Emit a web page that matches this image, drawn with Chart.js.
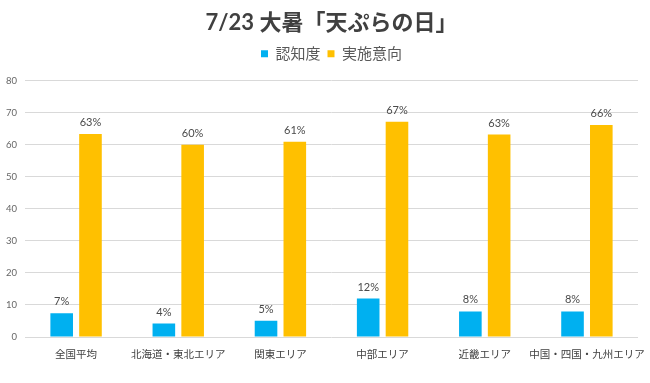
<!DOCTYPE html>
<html>
<head>
<meta charset="utf-8">
<script src="https://cdn.jsdelivr.net/npm/chart.js@4/dist/chart.umd.min.js"></script>
<style>
  html, body { margin: 0; padding: 0; background: #ffffff; }
  #wrap { width: 650px; height: 383px; }
</style>
</head>
<body>
<div id="wrap"><canvas id="c" width="650" height="383"></canvas></div>
<script>
const titleText = '7/23 大暑「天ぷらの日」';
const categories = ['全国平均', '北海道・東北エリア', '関東エリア', '中部エリア', '近畿エリア', '中国・四国・九州エリア'];
const seriesNames = ['認知度', '実施意向'];
const awareness = [7.4, 4.2, 5.1, 12, 8, 8];
const intention = [63.4, 60, 61, 67.2, 63.2, 66.2];
const yTicks = [0, 10, 20, 30, 40, 50, 60, 70, 80];

const FONT = "Lato, 'Noto Sans CJK JP', sans-serif";

const valueLabels = {
  id: 'valueLabels',
  afterDatasetsDraw(chart) {
    const ctx = chart.ctx;
    ctx.save();
    ctx.font = "11px " + FONT;
    ctx.fillStyle = '#4a4a4a';
    ctx.textAlign = 'center';
    ctx.textBaseline = 'bottom';
    chart.data.datasets.forEach((ds, di) => {
      const meta = chart.getDatasetMeta(di);
      meta.data.forEach((bar, i) => {
        ctx.fillText(Math.round(ds.data[i]) + '%', bar.x, bar.y - 6);
      });
    });
    ctx.restore();
  }
};

new Chart(document.getElementById('c'), {
  type: 'bar',
  data: {
    labels: categories,
    datasets: [
      { label: seriesNames[0], data: awareness, backgroundColor: '#00B0F0', borderWidth: 0,
        categoryPercentage: 0.5636, barPercentage: 0.785 },
      { label: seriesNames[1], data: intention, backgroundColor: '#FFC000', borderWidth: 0,
        categoryPercentage: 0.5636, barPercentage: 0.785 }
    ]
  },
  options: {
    responsive: false,
    animation: false,
    layout: { padding: { left: 0, right: 12, top: 0, bottom: 0 } },
    plugins: {
      title: {
        display: true,
        fullSize: false,
        text: titleText,
        color: '#404040',
        font: { family: FONT, size: 22, weight: 'bold', lineHeight: 1.15 },
        padding: { top: 10, bottom: 4 }
      },
      legend: {
        display: true,
        fullSize: false,
        position: 'top',
        labels: {
          color: '#595959',
          font: { family: FONT, size: 15 },
          boxWidth: 7,
          boxHeight: 7,
          padding: 7
        }
      },
      subtitle: {
        display: true,
        fullSize: false,
        text: '',
        weight: 100,
        font: { size: 1, lineHeight: 1 },
        padding: { top: 8.5, bottom: 0 }
      },
      tooltip: { enabled: false }
    },
    scales: {
      x: {
        grid: { display: false, drawTicks: false },
        border: { display: false },
        ticks: {
          color: '#404040',
          font: { family: FONT, size: 10.5 },
          padding: 11,
          maxRotation: 0,
          autoSkip: false
        },
        afterFit(scale) { scale.height = 46; scale.paddingLeft = 0; scale.paddingRight = 0; }
      },
      y: {
        min: 0,
        max: 80,
        afterBuildTicks(scale) { scale.ticks = yTicks.map(v => ({ value: v })); },
        grid: { color: '#d9d9d9', drawTicks: false, lineWidth: 1 },
        border: { display: false },
        ticks: {
          color: '#666666',
          font: { family: FONT, size: 9.5 },
          padding: 8
        },
        afterFit(scale) { scale.width = 25; scale.paddingTop = 0; scale.paddingBottom = 0; }
      }
    }
  },
  plugins: [valueLabels]
});
</script>
</body>
</html>
